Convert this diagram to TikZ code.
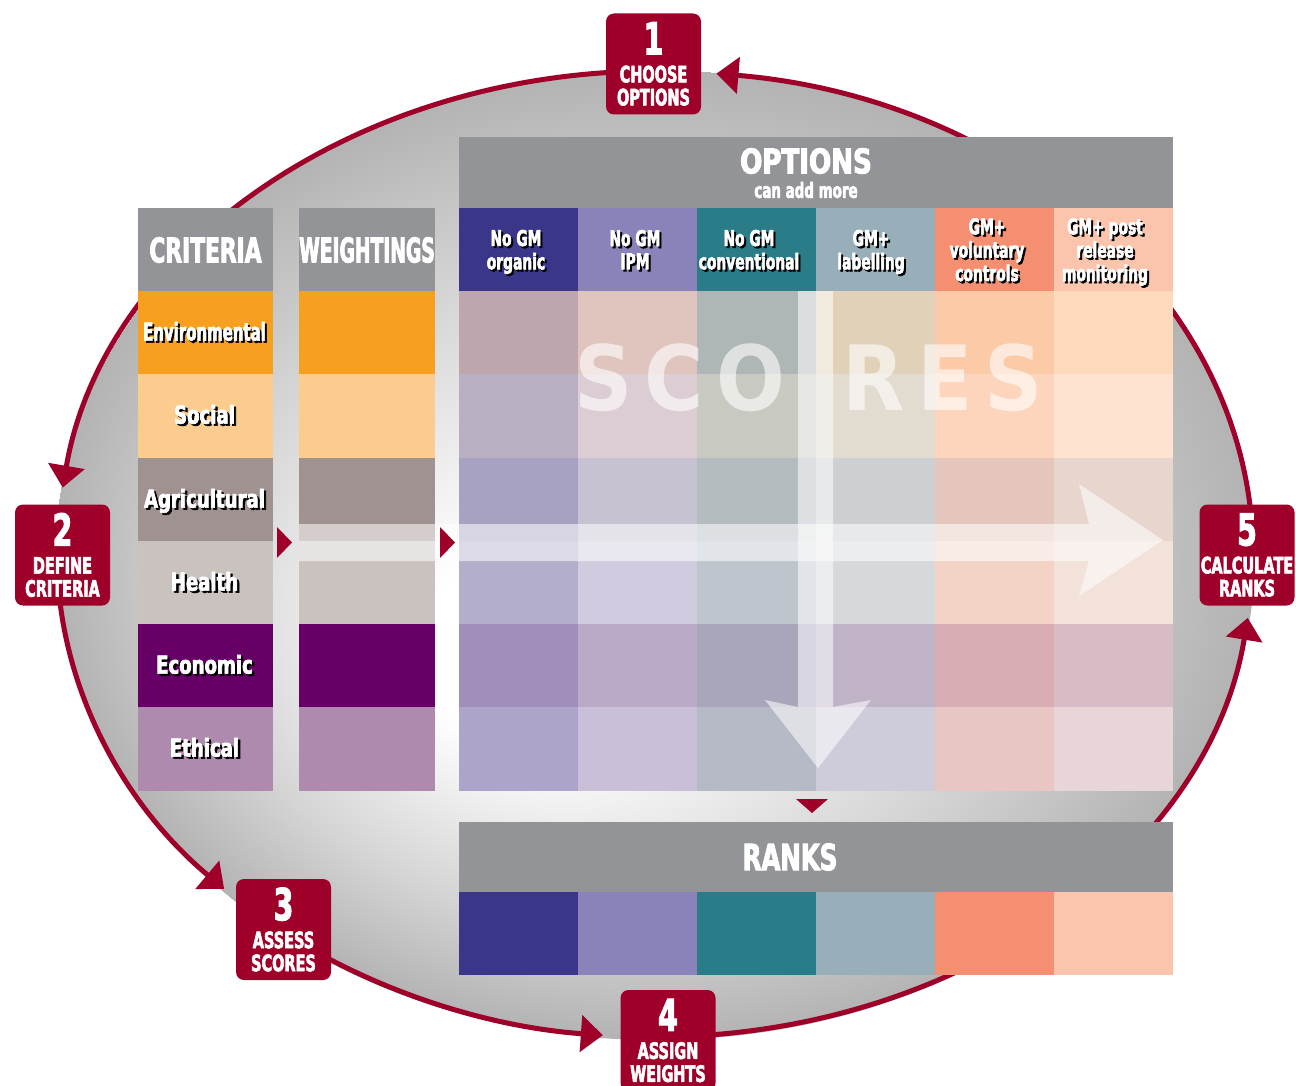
\documentclass[tikz,border=0pt]{standalone}
\usepackage{fontspec}
\setmainfont{DejaVu Sans}
\newfontfamily\condfont[FakeStretch=0.64, BoldFeatures={FakeBold=2.5}]{DejaVu Sans}
\newfontfamily\scorefont[FakeStretch=0.9]{DejaVu Sans}
\usepackage{xcolor}
\usepackage{graphicx}
\usetikzlibrary{arrows.meta}

\definecolor{stepred}{HTML}{9E0029}
\definecolor{hdrgray}{HTML}{939498}
\definecolor{discgray}{HTML}{B3B3B3}
\definecolor{discmid}{HTML}{D4D4D4}
\definecolor{env}{HTML}{F79F1F}
\definecolor{soc}{HTML}{FCCB8E}
\definecolor{agr}{HTML}{A09290}
\definecolor{hea}{HTML}{CAC2BF}
\definecolor{eco}{HTML}{660066}
\definecolor{eth}{HTML}{AE8AAE}
\definecolor{o1}{HTML}{3A378A}
\definecolor{o2}{HTML}{8A83B9}
\definecolor{o3}{HTML}{297C88}
\definecolor{o4}{HTML}{98AEB8}
\definecolor{o5}{HTML}{F58F72}
\definecolor{o6}{HTML}{FAC4AD}
\definecolor{sc11}{HTML}{BDA6AD}\definecolor{sc12}{HTML}{DFC5BD}\definecolor{sc13}{HTML}{AFB6B6}
\definecolor{sc14}{HTML}{E1D1B8}\definecolor{sc15}{HTML}{FBCAA6}\definecolor{sc16}{HTML}{FDDABB}
\definecolor{sc21}{HTML}{B9AFC2}\definecolor{sc22}{HTML}{DCCDD4}\definecolor{sc23}{HTML}{C8CAC1}
\definecolor{sc24}{HTML}{E2DBD0}\definecolor{sc25}{HTML}{FDD5BC}\definecolor{sc26}{HTML}{FEE4D0}
\definecolor{sc31}{HTML}{A8A2C2}\definecolor{sc32}{HTML}{C7C2D2}\definecolor{sc33}{HTML}{B4BCC0}
\definecolor{sc34}{HTML}{CDCFD2}\definecolor{sc35}{HTML}{E5C6BC}\definecolor{sc36}{HTML}{E7D5CE}
\definecolor{sc41}{HTML}{B2AECC}\definecolor{sc42}{HTML}{D0CBDE}\definecolor{sc43}{HTML}{BEC5CC}
\definecolor{sc44}{HTML}{D5D9DC}\definecolor{sc45}{HTML}{F2D3C6}\definecolor{sc46}{HTML}{F3E2DA}
\definecolor{sc51}{HTML}{A08EBB}\definecolor{sc52}{HTML}{BAAAC8}\definecolor{sc53}{HTML}{A9A6BC}
\definecolor{sc54}{HTML}{C0B3C8}\definecolor{sc55}{HTML}{D8ADB4}\definecolor{sc56}{HTML}{D9BBC6}
\definecolor{sc61}{HTML}{ADA4C9}\definecolor{sc62}{HTML}{C9BFD9}\definecolor{sc63}{HTML}{B5BAC6}
\definecolor{sc64}{HTML}{CECCDB}\definecolor{sc65}{HTML}{E8C6C3}\definecolor{sc66}{HTML}{E8D5D8}

\pgfdeclareradialshading{discshade}{\pgfpoint{-6bp}{-6bp}}{color(0bp)=(white); color(5bp)=(white); color(17bp)=(discmid); color(25bp)=(discgray)}

\newcommand\shad[1]{\leavevmode\rlap{\kern1pt\raisebox{-1pt}{\color{black}\begin{tabular}[b]{@{}c@{}}#1\end{tabular}}}\begin{tabular}[b]{@{}c@{}}#1\end{tabular}}

\begin{document}
\begin{tikzpicture}[x=0.5pt, y=-0.5pt,
    flow/.style={draw=stepred, line width=2.5pt, -{Triangle[length=11pt, width=18pt]}},
    stepbox/.style={fill=stepred, rounded corners=4pt, minimum width=47.5pt, minimum height=50.5pt,
      inner sep=0pt, text=white, align=center, font=\condfont\bfseries\fontsize{11.3}{11.5}\selectfont},
    hdr/.style={text=white, inner sep=0pt, font=\condfont\bfseries\fontsize{17}{17}\selectfont},
    rowlab/.style={text=white, inner sep=0pt, font=\condfont\bfseries\fontsize{12.3}{12.5}\selectfont},
    optlab/.style={text=white, inner sep=0pt, font=\condfont\bfseries\fontsize{10.8}{11.6}\selectfont},
    glassy/.style={fill=white, opacity=.55}]

        \useasboundingbox (0,0) rectangle (1296,1086);
        \shade[shading=discshade] (655,555) ellipse [x radius=600, y radius=485];

        \draw[flow] (655,554) ++(268:598 and 483) arc[start angle=268, end angle=187.9, x radius=598, y radius=483];
        \draw[flow] (655,554) ++(177:598 and 483) arc[start angle=177, end angle=136.1, x radius=598, y radius=483];
        \draw[flow] (655,554) ++(126:598 and 483) arc[start angle=126, end angle=95, x radius=598, y radius=483];
        \draw[flow] (655,554) ++(87:598 and 483) arc[start angle=87, end angle=7.6, x radius=598, y radius=483];
        \draw[flow] (655,554) ++(-3:598 and 483) arc[start angle=-3, end angle=-84.1, x radius=598, y radius=483];

        \fill[hdrgray] (138,208) rectangle (273,291);
        \fill[hdrgray] (299,208) rectangle (435,291);
        \node[hdr] (criteria) at (205.5,250) {CRITERIA};
        \node[hdr] (weightings) at (367,250) {\scalebox{0.86}[1]{WEIGHTINGS}};
        \foreach \y/\col/\lab/\sx in {291/env/Environmental/0.95, 374/soc/Social/1.15, 458/agr/Agricultural/1.15,
                541/hea/Health/1.15, 624/eco/Economic/1.15, 707/eth/Ethical/1.15}{
            \fill[\col] (138,\y) rectangle ++(135,83.5);
            \fill[\col] (299,\y) rectangle ++(136,83.5);
            \node[rowlab] (crit-\col) at (204.5,\y+45) {\scalebox{\sx}[1]{\shad{\lab}}};
        }

        \fill[hdrgray] (459,137) rectangle (1173,208);
        \node[hdr] (options) at (806,161) {\scalebox{1.2}[1]{OPTIONS}};
        \node[hdr, font=\condfont\bfseries\fontsize{10.5}{11}\selectfont] (addmore) at (806,190) {can add more};
        \fill[hdrgray] (459,822) rectangle (1173,892);
        \node[hdr, font=\condfont\bfseries\fontsize{18}{18}\selectfont] (ranks) at (790,857) {\scalebox{1.06}[1]{RANKS}};
        \foreach \x/\col/\tx/\lab in {459/o1/516/{No GM\\organic}, 578/o2/635/{No GM\\IPM},
                697/o3/749/{No GM\\conventional}, 816/o4/871/{GM+\\labelling},
                935/o5/987/{GM+\\voluntary\\controls}, 1054/o6/1105/{GM+ post\\release\\monitoring}}{
            \fill[\col] (\x,208) rectangle ++(119,83);
            \fill[\col] (\x,892) rectangle ++(119,83);
            \node[optlab] (opt-\col) at (\tx,254) {\shad{\lab}};
        }

        \foreach \y [count=\ri] in {291,374,458,541,624,707}
            \foreach \x [count=\ci] in {459,578,697,816,935,1054}
                \fill[sc\ri\ci] (\x,\y) rectangle ++(119,83.5);

        \node[anchor=base west, inner sep=0pt, text=white, text opacity=.6,
            font=\scorefont\bfseries\fontsize{45}{45}\selectfont] (scores) at (574,410)
            {S\kern6pt C\kern6pt O\kern29pt R\kern6pt E\kern6pt S};
        \fill[glassy] (299,524) -- (1089,524) -- (1079,484) -- (1163,540) -- (1079,596) -- (1089,561) -- (299,561) -- cycle;
        \fill[glassy] (798,291) -- (833,291) -- (833,707) -- (871,700) -- (818,768) -- (765,700) -- (798,707) -- cycle;

        \fill[stepred] (277,527) -- (292,542.5) -- (277,558) -- cycle;
        \fill[stepred] (440,527) -- (455,542.5) -- (440,558) -- cycle;
        \fill[stepred] (796,799) -- (828,799) -- (812,813) -- cycle;

        \node[stepbox] (step1) at (653.5,64) {{\fontsize{22}{22}\selectfont 1}\\[2.5pt]CHOOSE\\OPTIONS};
        \node[stepbox] (step2) at (62.5,555) {{\fontsize{22}{22}\selectfont 2}\\[2.5pt]DEFINE\\CRITERIA};
        \node[stepbox] (step3) at (283.5,929.5) {{\fontsize{22}{22}\selectfont 3}\\[2.5pt]ASSESS\\SCORES};
        \node[stepbox] (step4) at (668,1040.5) {{\fontsize{22}{22}\selectfont 4}\\[2.5pt]ASSIGN\\WEIGHTS};
        \node[stepbox] (step5) at (1247,555) {{\fontsize{22}{22}\selectfont 5}\\[2.5pt]CALCULATE\\RANKS};

        \end{tikzpicture}
\end{document}
